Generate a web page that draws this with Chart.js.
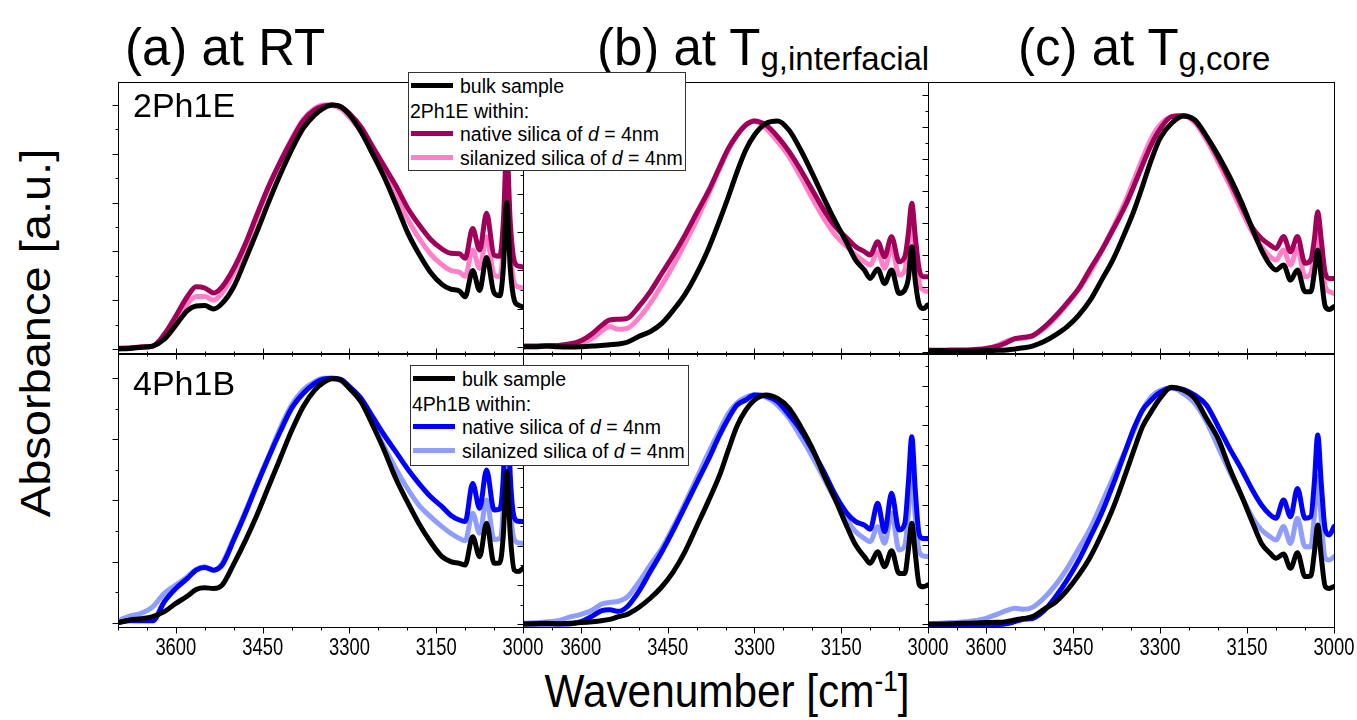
<!DOCTYPE html>
<html>
<head>
<meta charset="utf-8">
<script src="https://cdn.jsdelivr.net/npm/chart.js@4.4.1/dist/chart.umd.min.js"></script>
<style>
  html, body { margin: 0; padding: 0; background: #fff; }
  body { width: 1357px; height: 720px; position: relative; overflow: hidden;
         font-family: "Liberation Sans", Arial, sans-serif; color: #000; }
  canvas { position: absolute; }
  .title { position: absolute; font-size: 51px; line-height: 51px; white-space: nowrap; }
  .title sub { font-size: 33px; vertical-align: -5px; line-height: 0; }
  .plabel { position: absolute; font-size: 34px; line-height: 34px; white-space: nowrap; }
  .axtitle { position: absolute; white-space: nowrap; }
  .legend { position: absolute; background: #fff; border: 1px solid #333; z-index: 5; }
  .legend .row { position: absolute; left: 0; height: 24px; line-height: 24px; font-size: 19.5px; white-space: nowrap; }
  .legend .swatch { position: absolute; left: 2px; width: 42px; height: 5px; }
  .legend .txt { position: absolute; left: 51px; }
</style>
</head>
<body>

<div class="title" style="left:125px; top:22px;">(a) at RT</div>
<div class="title" style="left:597px; top:22px;">(b) at T<sub>g,interfacial</sub></div>
<div class="title" style="left:1018px; top:22px;">(c) at T<sub>g,core</sub></div>

<div class="axtitle" style="left:35px; top:333px; font-size:47px; transform: translate(-50%, -50%) rotate(-90deg) scaleY(0.9);">Absorbance [a.u.]</div>
<div class="axtitle" style="left:727px; top:690px; font-size:47px; transform: translate(-50%, -50%) scaleX(0.9);">Wavenumber [cm<sup style="font-size:29px; vertical-align: 16px; line-height:0;">-1</sup>]</div>

<div class="plabel" style="left:133px; top:88px; z-index:4;">2Ph1E</div>
<div class="plabel" style="left:133px; top:366px; z-index:4;">4Ph1B</div>

<div class="legend" style="left:408px; top:72px; width:276px; height:97px;">
  <div class="row" style="top:1px;"><span class="swatch" style="top:9px; background:#000;"></span><span class="txt">bulk sample</span></div>
  <div class="row" style="top:26px;"><span style="position:absolute; left:1px;">2Ph1E within:</span></div>
  <div class="row" style="top:49px;"><span class="swatch" style="top:9px; background:#A0005A;"></span><span class="txt">native silica of <i>d</i> = 4nm</span></div>
  <div class="row" style="top:73px;"><span class="swatch" style="top:9px; background:#FF80C8;"></span><span class="txt">silanized silica of <i>d</i> = 4nm</span></div>
</div>

<div class="legend" style="left:410px; top:365px; width:277px; height:99px;">
  <div class="row" style="top:1px;"><span class="swatch" style="top:9px; background:#000;"></span><span class="txt">bulk sample</span></div>
  <div class="row" style="top:26px;"><span style="position:absolute; left:1px;">4Ph1B within:</span></div>
  <div class="row" style="top:49px;"><span class="swatch" style="top:9px; background:#0000FF;"></span><span class="txt">native silica of <i>d</i> = 4nm</span></div>
  <div class="row" style="top:73px;"><span class="swatch" style="top:9px; background:#8F9DFF;"></span><span class="txt">silanized silica of <i>d</i> = 4nm</span></div>
</div>

<canvas id="p1"></canvas>
<canvas id="p2"></canvas>
<canvas id="p3"></canvas>
<canvas id="p4"></canvas>
<canvas id="p5"></canvas>
<canvas id="p6"></canvas>

<script>
// Wavenumber grid (cm-1) shared by every spectrum
const wavenumber = [3700, 3680, 3660, 3640, 3620, 3600, 3580, 3565, 3550, 3535,
  3520, 3500, 3480, 3460, 3440, 3420, 3400, 3380, 3360, 3345,
  3330, 3315, 3300, 3280, 3260, 3240, 3220, 3200, 3180, 3160,
  3140, 3125, 3110, 3100, 3087, 3075, 3063, 3050, 3040, 3034,
  3028, 3022, 3015, 3008, 3000];

// Labelled wavenumber ticks on the bottom axes
const xTickLabels = [3600, 3450, 3300, 3150, 3000];

// 2Ph1E, room temperature (normalised absorbance)
const bulk2Ph1E_RT = [0, 0.002, 0.007, 0.012, 0.04, 0.098, 0.157, 0.176, 0.178, 0.164,
  0.187, 0.255, 0.365, 0.48, 0.6, 0.713, 0.816, 0.904, 0.959, 0.986,
  1.0, 0.993, 0.96, 0.89, 0.80, 0.705, 0.595, 0.48, 0.39, 0.315,
  0.265, 0.245, 0.238, 0.214, 0.322, 0.24, 0.375, 0.23, 0.218, 0.33,
  0.6, 0.33, 0.2, 0.18, 0.173];
const native2Ph1E_RT = [0.003, 0.004, 0.008, 0.012, 0.06, 0.135, 0.215, 0.255, 0.25, 0.23,
  0.255, 0.33, 0.43, 0.55, 0.665, 0.765, 0.855, 0.935, 0.98, 0.995,
  1.0, 0.993, 0.965, 0.91, 0.83, 0.75, 0.67, 0.58, 0.51, 0.45,
  0.41, 0.392, 0.39, 0.372, 0.494, 0.406, 0.556, 0.385, 0.38, 0.52,
  0.82, 0.52, 0.36, 0.34, 0.336];
const silanized2Ph1E_RT = [0.002, 0.004, 0.008, 0.012, 0.055, 0.12, 0.185, 0.215, 0.215, 0.2,
  0.23, 0.31, 0.415, 0.54, 0.66, 0.765, 0.86, 0.94, 0.985, 1.0,
  0.998, 0.985, 0.95, 0.89, 0.805, 0.72, 0.625, 0.535, 0.455, 0.39,
  0.345, 0.322, 0.315, 0.298, 0.406, 0.33, 0.46, 0.305, 0.296, 0.42,
  0.72, 0.42, 0.27, 0.255, 0.25];

// 2Ph1E at the interfacial glass transition
const bulk2Ph1E_TgInt = [0.001, 0.001, 0.004, 0.001, 0, 0.001, 0.004, 0.007, 0.01, 0.013,
  0.021, 0.046, 0.068, 0.104, 0.163, 0.232, 0.322, 0.43, 0.559, 0.662,
  0.772, 0.868, 0.934, 0.985, 0.996, 0.955, 0.868, 0.765, 0.655, 0.552,
  0.457, 0.383, 0.339, 0.302, 0.344, 0.28, 0.339, 0.236, 0.251, 0.3,
  0.442, 0.29, 0.185, 0.17, 0.185];
const native2Ph1E_TgInt = [0.004, 0.004, 0.006, 0.007, 0.013, 0.028, 0.06, 0.093, 0.119, 0.122,
  0.126, 0.178, 0.244, 0.325, 0.405, 0.493, 0.589, 0.684, 0.794, 0.875,
  0.934, 0.978, 0.996, 0.978, 0.927, 0.861, 0.78, 0.692, 0.604, 0.53,
  0.479, 0.442, 0.42, 0.405, 0.464, 0.398, 0.486, 0.376, 0.398, 0.5,
  0.633, 0.486, 0.339, 0.31, 0.31];
const silanized2Ph1E_TgInt = [0.001, 0.001, 0.003, 0.004, 0.007, 0.016, 0.038, 0.068, 0.09, 0.078,
  0.082, 0.126, 0.192, 0.273, 0.361, 0.457, 0.559, 0.67, 0.787, 0.868,
  0.934, 0.978, 0.996, 0.963, 0.905, 0.838, 0.75, 0.655, 0.567, 0.493,
  0.442, 0.405, 0.376, 0.361, 0.42, 0.347, 0.435, 0.317, 0.339, 0.442,
  0.559, 0.427, 0.28, 0.251, 0.244];

// 2Ph1E at the core glass transition
const bulk2Ph1E_TgCore = [0.002, 0.004, 0.002, 0.002, 0.002, 0.004, 0.005, 0.006, 0.011, 0.016,
  0.023, 0.042, 0.07, 0.105, 0.154, 0.218, 0.305, 0.394, 0.505, 0.595,
  0.70, 0.81, 0.901, 0.965, 0.996, 0.979, 0.911, 0.831, 0.739, 0.634,
  0.514, 0.429, 0.366, 0.345, 0.366, 0.302, 0.345, 0.253, 0.253, 0.33,
  0.429, 0.316, 0.19, 0.178, 0.19];
const native2Ph1E_TgCore = [0.006, 0.005, 0.006, 0.006, 0.009, 0.013, 0.023, 0.037, 0.054, 0.06,
  0.066, 0.102, 0.15, 0.206, 0.267, 0.35, 0.43, 0.52, 0.615, 0.70,
  0.79, 0.875, 0.94, 0.993, 0.997, 0.976, 0.908, 0.821, 0.725, 0.62,
  0.521, 0.478, 0.45, 0.436, 0.486, 0.422, 0.486, 0.373, 0.387, 0.472,
  0.591, 0.472, 0.33, 0.309, 0.309];
const silanized2Ph1E_TgCore = [0.002, 0.001, 0, 0.001, 0.004, 0.012, 0.026, 0.043, 0.054, 0.057,
  0.066, 0.097, 0.144, 0.2, 0.263, 0.337, 0.429, 0.528, 0.634, 0.725,
  0.817, 0.901, 0.958, 0.993, 0.997, 0.968, 0.894, 0.803, 0.704, 0.598,
  0.5, 0.443, 0.401, 0.387, 0.429, 0.366, 0.436, 0.316, 0.33, 0.415,
  0.528, 0.408, 0.274, 0.253, 0.246];

// 4Ph1B, room temperature
const bulk4Ph1B_RT = [0, 0.011, 0.016, 0.025, 0.045, 0.079, 0.109, 0.136, 0.143, 0.14,
  0.154, 0.24, 0.335, 0.44, 0.555, 0.67, 0.785, 0.884, 0.952, 0.982,
  0.998, 0.993, 0.959, 0.904, 0.809, 0.706, 0.591, 0.495, 0.406, 0.331,
  0.27, 0.25, 0.243, 0.236, 0.352, 0.27, 0.407, 0.243, 0.245, 0.36,
  0.62, 0.36, 0.215, 0.209, 0.223];
const native4Ph1B_RT = [0, 0.008, 0.008, 0.008, 0.086, 0.14, 0.181, 0.215, 0.226, 0.215,
  0.236, 0.338, 0.447, 0.563, 0.675, 0.78, 0.877, 0.938, 0.979, 0.996,
  1.0, 0.996, 0.966, 0.918, 0.843, 0.768, 0.70, 0.631, 0.57, 0.516,
  0.475, 0.44, 0.42, 0.414, 0.57, 0.468, 0.625, 0.461, 0.465, 0.6,
  0.98, 0.6, 0.43, 0.415, 0.414];
const silanized4Ph1B_RT = [0.008, 0.027, 0.038, 0.065, 0.12, 0.154, 0.188, 0.218, 0.229, 0.215,
  0.243, 0.345, 0.454, 0.57, 0.679, 0.795, 0.891, 0.952, 0.986, 1.0,
  1.0, 0.99, 0.959, 0.904, 0.816, 0.72, 0.631, 0.55, 0.481, 0.434,
  0.393, 0.366, 0.345, 0.335, 0.448, 0.366, 0.502, 0.34, 0.345, 0.48,
  0.85, 0.48, 0.34, 0.327, 0.325];

// 4Ph1B at the interfacial glass transition
const bulk4Ph1B_TgInt = [0, 0.001, 0.003, 0.001, 0.003, 0.006, 0.01, 0.014, 0.02, 0.032,
  0.042, 0.072, 0.112, 0.162, 0.228, 0.315, 0.423, 0.532, 0.648, 0.757,
  0.861, 0.93, 0.974, 0.996, 0.981, 0.938, 0.858, 0.764, 0.648, 0.539,
  0.423, 0.343, 0.293, 0.264, 0.314, 0.249, 0.319, 0.22, 0.22, 0.322,
  0.438, 0.307, 0.17, 0.162, 0.17];
const native4Ph1B_TgInt = [0, 0, 0, 0, 0, 0.01, 0.035, 0.057, 0.062, 0.055,
  0.075, 0.141, 0.228, 0.314, 0.409, 0.51, 0.612, 0.713, 0.822, 0.894,
  0.952, 0.974, 0.996, 0.991, 0.967, 0.909, 0.843, 0.757, 0.662, 0.561,
  0.481, 0.445, 0.43, 0.412, 0.525, 0.401, 0.568, 0.409, 0.438, 0.612,
  0.814, 0.583, 0.387, 0.372, 0.372];
const silanized4Ph1B_TgInt = [0.003, 0.006, 0.009, 0.014, 0.03, 0.042, 0.061, 0.086, 0.094, 0.099,
  0.117, 0.181, 0.257, 0.329, 0.423, 0.525, 0.633, 0.742, 0.843, 0.916,
  0.962, 0.986, 0.997, 0.986, 0.952, 0.894, 0.814, 0.728, 0.633, 0.539,
  0.452, 0.401, 0.372, 0.358, 0.423, 0.351, 0.481, 0.322, 0.343, 0.481,
  0.655, 0.467, 0.314, 0.296, 0.293];

// 4Ph1B at the core glass transition
const bulk4Ph1B_TgCore = [0, 0, 0.001, 0.003, 0.004, 0.006, 0.007, 0.01, 0.017, 0.023,
  0.031, 0.062, 0.093, 0.143, 0.207, 0.284, 0.383, 0.495, 0.629, 0.734,
  0.833, 0.896, 0.952, 0.999, 0.987, 0.952, 0.868, 0.783, 0.657, 0.544,
  0.425, 0.34, 0.298, 0.277, 0.295, 0.235, 0.301, 0.2, 0.203, 0.298,
  0.418, 0.284, 0.158, 0.15, 0.158];
const native4Ph1B_TgCore = [-0.003, -0.003, -0.003, -0.003, -0.003, -0.003, -0.002, 0.001, 0.01, 0.02,
  0.023, 0.056, 0.115, 0.186, 0.27, 0.368, 0.471, 0.594, 0.727, 0.826,
  0.903, 0.945, 0.977, 0.997, 0.99, 0.966, 0.924, 0.835, 0.741, 0.655,
  0.562, 0.502, 0.46, 0.446, 0.523, 0.453, 0.572, 0.446, 0.453, 0.594,
  0.797, 0.594, 0.397, 0.376, 0.411];
const silanized4Ph1B_TgCore = [0, 0.003, 0.006, 0.008, 0.014, 0.024, 0.042, 0.056, 0.066, 0.062,
  0.07, 0.11, 0.165, 0.235, 0.319, 0.404, 0.512, 0.622, 0.73, 0.816,
  0.903, 0.959, 0.985, 0.997, 0.973, 0.931, 0.854, 0.748, 0.643, 0.544,
  0.446, 0.397, 0.368, 0.354, 0.411, 0.34, 0.446, 0.326, 0.326, 0.453,
  0.622, 0.439, 0.277, 0.27, 0.284];

const COLORS = {
  bulk: '#000000',
  native2Ph1E: '#A0005A', silanized2Ph1E: '#FF80C8',
  native4Ph1B: '#0000FF', silanized4Ph1B: '#8F9DFF'
};

// Frame, tick marks and bottom tick labels for one panel
const panelFrame = {
  id: 'panelFrame',
  afterDatasetsDraw(chart, args, o) {
    const { ctx, chartArea: a } = chart;
    const xs = chart.scales.x, ys = chart.scales.y;
    const L = Math.round(a.left) + 0.5, R = Math.round(a.right) + 0.5;
    const T = Math.round(a.top) + 0.5, B = Math.round(a.bottom) + 0.5;
    ctx.save();
    ctx.strokeStyle = '#000';
    ctx.lineWidth = 1;
    ctx.strokeRect(L, T, R - L, B - T);
    ctx.beginPath();
    for (let v = 3000; v <= 3700; v += 50) {
      const px = Math.round(xs.getPixelForValue(v)) + 0.5;
      const len = (v % 150 === 0) ? 6 : 3;
      ctx.moveTo(px, B); ctx.lineTo(px, B + len);
      if (o.topTicks) { ctx.moveTo(px, T); ctx.lineTo(px, T - len); }
    }
    for (let k = 0; ; k++) {
      const v = k * o.yStep;
      if (v > ys.max) break;
      const py = Math.round(ys.getPixelForValue(v)) + 0.5;
      const len = (k % 2 === 0) ? 6 : 3;
      ctx.moveTo(L, py); ctx.lineTo(L - len, py);
    }
    ctx.stroke();
    if (o.labels) {
      ctx.fillStyle = '#000';
      ctx.font = '23px "Liberation Sans", Arial, sans-serif';
      ctx.textAlign = 'center';
      ctx.textBaseline = 'middle';
      for (const v of xTickLabels) {
        const px = xs.getPixelForValue(v);
        ctx.save();
        ctx.translate(px, B + 21);
        ctx.scale(0.8, 1);
        ctx.fillText(String(v), 0, 0);
        ctx.restore();
      }
    }
    ctx.restore();
  }
};

function spectrum(values, color) {
  return {
    data: wavenumber.map((w, i) => ({ x: w, y: values[i] })),
    borderColor: color,
    borderWidth: 5,
    pointRadius: 0,
    fill: false,
    cubicInterpolationMode: 'monotone',
    borderCapStyle: 'round',
    borderJoinStyle: 'round',
    clip: 0
  };
}

const M = 40;
const panels = [
  { id: 'p1', left: 118, top: 82, width: 405, height: 271, yMin: -0.0164, yMax: 1.0943, yStep: 0.1,
    series: [[bulk2Ph1E_RT, COLORS.bulk], [native2Ph1E_RT, COLORS.native2Ph1E], [silanized2Ph1E_RT, COLORS.silanized2Ph1E]] },
  { id: 'p2', left: 523, top: 82, width: 405, height: 271, yMin: -0.0264, yMax: 1.1674, yStep: 0.0844,
    series: [[bulk2Ph1E_TgInt, COLORS.bulk], [native2Ph1E_TgInt, COLORS.native2Ph1E], [silanized2Ph1E_TgInt, COLORS.silanized2Ph1E]] },
  { id: 'p3', left: 928, top: 82, width: 406, height: 271, yMin: -0.0063, yMax: 1.1395, yStep: 0.0677,
    series: [[bulk2Ph1E_TgCore, COLORS.bulk], [native2Ph1E_TgCore, COLORS.native2Ph1E], [silanized2Ph1E_TgCore, COLORS.silanized2Ph1E]] },
  { id: 'p4', left: 118, top: 354, width: 405, height: 273, yMin: -0.0176, yMax: 1.0994, yStep: 0.125, labels: true, topTicks: true,
    series: [[bulk4Ph1B_RT, COLORS.bulk], [native4Ph1B_RT, COLORS.native4Ph1B], [silanized4Ph1B_RT, COLORS.silanized4Ph1B]] },
  { id: 'p5', left: 523, top: 354, width: 405, height: 273, yMin: -0.013, yMax: 1.1739, yStep: 0.0848, labels: true, topTicks: true,
    series: [[bulk4Ph1B_TgInt, COLORS.bulk], [native4Ph1B_TgInt, COLORS.native4Ph1B], [silanized4Ph1B_TgInt, COLORS.silanized4Ph1B]] },
  { id: 'p6', left: 928, top: 354, width: 406, height: 273, yMin: -0.0127, yMax: 1.1392, yStep: 0.0838, labels: true, topTicks: true,
    series: [[bulk4Ph1B_TgCore, COLORS.bulk], [native4Ph1B_TgCore, COLORS.native4Ph1B], [silanized4Ph1B_TgCore, COLORS.silanized4Ph1B]] }
];

for (const p of panels) {
  const cv = document.getElementById(p.id);
  cv.width = p.width + 2 * M;
  cv.height = p.height + 2 * M;
  cv.style.left = (p.left - M) + 'px';
  cv.style.top = (p.top - M) + 'px';
  cv.style.width = cv.width + 'px';
  cv.style.height = cv.height + 'px';
  new Chart(cv, {
    type: 'line',
    data: { datasets: p.series.map(([vals, col]) => spectrum(vals, col)) },
    options: {
      responsive: false,
      animation: false,
      devicePixelRatio: 1,
      events: [],
      layout: { padding: M },
      scales: {
        x: { type: 'linear', min: 3000, max: 3700, reverse: true, display: false },
        y: { type: 'linear', min: p.yMin, max: p.yMax, display: false }
      },
      plugins: {
        legend: { display: false },
        tooltip: { enabled: false },
        panelFrame: { yStep: p.yStep, labels: !!p.labels, topTicks: !!p.topTicks }
      }
    },
    plugins: [panelFrame]
  });
}
</script>
</body>
</html>
